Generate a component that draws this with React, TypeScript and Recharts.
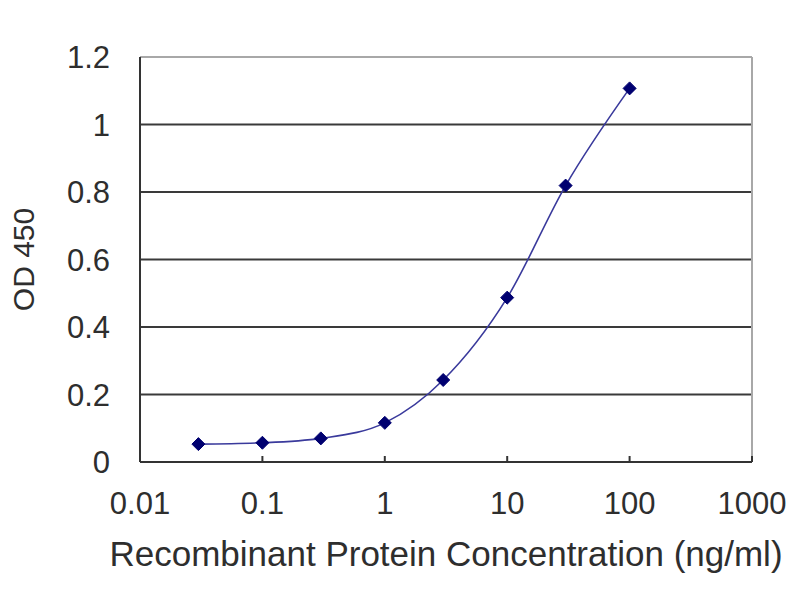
import React from "react";
import {
  LineChart,
  Line,
  XAxis,
  YAxis,
  CartesianGrid,
  ReferenceLine,
} from "recharts";

// ELISA standard curve
const concentrations = [0.03, 0.1, 0.3, 1, 3, 10, 30, 100];
const odValues = [0.053, 0.057, 0.07, 0.116, 0.243, 0.487, 0.819, 1.107];
const xTicks = [0.01, 0.1, 1, 10, 100, 1000];
const yTicks = [0, 0.2, 0.4, 0.6, 0.8, 1, 1.2];

const data = concentrations.map((c, i) => ({ conc: c, od: odValues[i] }));

const FONT = "'Liberation Sans', Arial, sans-serif";
const TEXT = "#2e2e2e";
const LINE = "#3a3a9c";
const MARKER = "#000070";

const Diamond = (props: any) => {
  const { cx, cy, index } = props;
  if (cx == null || cy == null) return null;
  const r = 6.5;
  return (
    <polygon
      key={`d-${index}`}
      points={`${cx},${cy - r} ${cx + r},${cy} ${cx},${cy + r} ${cx - r},${cy}`}
      fill={MARKER}
      stroke={MARKER}
    />
  );
};

const YLabel = (props: any) => {
  const vb = props.viewBox || {};
  const cy = (vb.y ?? 57) + (vb.height ?? 405) / 2;
  const cx = 23;
  return (
    <text
      x={cx}
      y={cy}
      transform={`rotate(-90, ${cx}, ${cy})`}
      textAnchor="middle"
      dominantBaseline="central"
      fill={TEXT}
      fontSize={30}
      fontFamily={FONT}
    >
      OD 450
    </text>
  );
};

const XLabel = (props: any) => {
  const vb = props.viewBox || {};
  const cx = (vb.x ?? 140) + (vb.width ?? 612) / 2;
  return (
    <text
      x={cx}
      y={553}
      textAnchor="middle"
      dominantBaseline="central"
      fill={TEXT}
      fontSize={35}
      fontFamily={FONT}
    >
      Recombinant Protein Concentration (ng/ml)
    </text>
  );
};

export default function App() {
  return (
    <div style={{ position: "absolute", left: 0, top: 0, width: 800, height: 600, background: "#fff" }}>
      <LineChart
        width={800}
        height={600}
        data={data}
        margin={{ top: 57, right: 48, bottom: 0, left: 0 }}
      >
        <CartesianGrid horizontal vertical={false} stroke="#3a3a3a" strokeWidth={2} />
        <ReferenceLine y={1.2} stroke="#a8a8a8" strokeWidth={2} />
        <ReferenceLine x={1000} stroke="#a8a8a8" strokeWidth={2} />
        <XAxis
          dataKey="conc"
          type="number"
          scale="log"
          domain={[0.01, 1000]}
          ticks={xTicks}
          allowDataOverflow
          height={138}
          tickSize={-6}
          tickMargin={36}
          tickLine={{ stroke: "#333", strokeWidth: 2 }}
          axisLine={{ stroke: "#333", strokeWidth: 2 }}
          tick={{ fill: TEXT, fontSize: 31, fontFamily: FONT }}
          label={<XLabel />}
        />
        <YAxis
          type="number"
          domain={[0, 1.2]}
          ticks={yTicks}
          width={140}
          tickLine={false}
          tickSize={0}
          tickMargin={30}
          axisLine={{ stroke: "#333", strokeWidth: 2 }}
          tick={{ fill: TEXT, fontSize: 31, fontFamily: FONT }}
          label={<YLabel />}
        />
        <Line
          type="monotone"
          dataKey="od"
          stroke={LINE}
          strokeWidth={1.6}
          dot={Diamond}
          activeDot={false}
          isAnimationActive={false}
        />
      </LineChart>
    </div>
  );
}
